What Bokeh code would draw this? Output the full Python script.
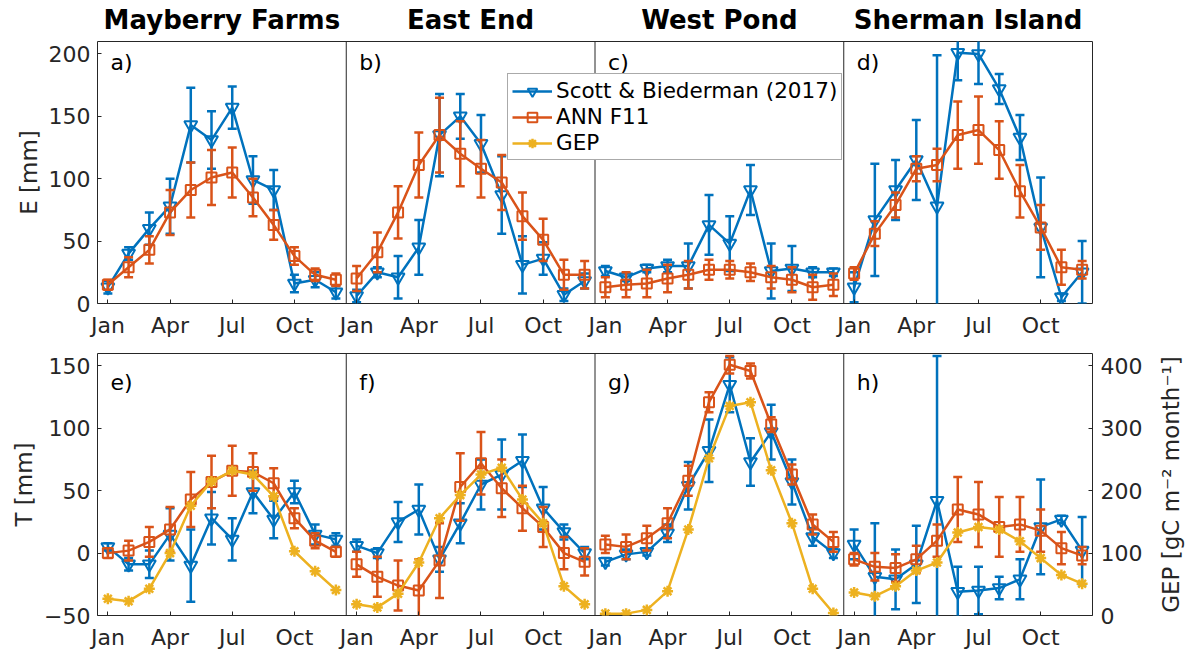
from math import pi
from bokeh.plotting import figure
from bokeh.models import Range1d, LinearAxis, FixedTicker, Span, Label, Legend, LegendItem
from bokeh.layouts import column, row
from bokeh.embed import file_html
from bokeh.resources import INLINE

# ---------------- data ----------------
months = [1, 2, 3, 4, 5, 6, 7, 8, 9, 10, 11, 12]
tick_months = [1, 4, 7, 10]
tick_labels = ["Jan", "Apr", "Jul", "Oct"]
sites = ["Mayberry Farms", "East End", "West Pond", "Sherman Island"]
letters_top = ["a)", "b)", "c)", "d)"]
letters_bottom = ["e)", "f)", "g)", "h)"]
series_names = ["Scott & Biederman (2017)", "ANN F11", "GEP"]
gep_label = "GEP [gC m\u207b\u00b2 month\u207b\u00b9]"

# Mayberry Farms
mf_E_scott = [13, 40, 60, 78, 143, 131, 157, 99, 91, 16, 19, 9]
mf_E_scott_err = [5, 5, 13, 22, 30, 23, 17, 19, 16, 7, 6, 5]
mf_E_ann = [15, 29, 43, 73, 91, 101, 105, 85, 63, 38, 23, 19]
mf_E_ann_err = [4, 8, 11, 18, 22, 22, 20, 15, 12, 7, 5, 5]
mf_T_scott = [5, -9, -9, 15, -10, 28, 11, 49, 27, 49, 15, 11]
mf_T_scott_err = [3, 5, 11, 21, 29, 21, 17, 17, 15, 9, 8, 5]
mf_T_ann = [0, 2, 9, 19, 43, 57, 66, 65, 56, 28, 10, 1]
mf_T_ann_err = [4, 8, 12, 18, 22, 21, 20, 15, 12, 8, 6, 4]
mf_GEP = [27, 23, 43, 100, 176, 215, 232, 226, 191, 103, 71, 41]

# East End
ee_E_scott = [6, 25, 21, 45, 135, 150, 128, 87, 31, 36, 7, 18]
ee_E_scott_err = [5, 4, 17, 22, 33, 18, 23, 31, 23, 13, 5, 6]
ee_E_ann = [20, 41, 73, 111, 135, 120, 108, 97, 70, 51, 23, 23]
ee_E_ann_err = [10, 16, 21, 26, 30, 26, 23, 22, 19, 17, 12, 11]
ee_T_scott = [6, 0, 25, 35, -5, 24, 55, 63, 74, 36, 17, 0]
ee_T_scott_err = [5, 4, 16, 20, 10, 16, 20, 28, 21, 17, 6, 5]
ee_T_ann = [-9, -19, -26, -30, -6, 53, 72, 52, 36, 21, 0, -7]
ee_T_ann_err = [10, 16, 20, 25, 30, 27, 25, 23, 18, 16, 13, 11]
ee_GEP = [18, 13, 35, 85, 156, 193, 226, 237, 186, 148, 47, 18]

# West Pond
wp_E_scott = [26, 21, 28, 30, 30, 63, 48, 91, 26, 28, 25, 25]
wp_E_scott_err = [4, 3, 3, 5, 18, 24, 22, 20, 22, 18, 4, 3]
wp_E_ann = [13, 15, 16, 20, 23, 27, 27, 25, 21, 19, 13, 15]
wp_E_ann_err = [8, 10, 11, 11, 11, 8, 7, 7, 9, 10, 10, 9]
wp_T_scott = [-7, -1, 1, 16, 54, 82, 135, 73, 97, 57, 13, 0]
wp_T_scott_err = [3, 4, 3, 7, 19, 25, 22, 19, 22, 18, 7, 4]
wp_T_ann = [7, 5, 12, 24, 58, 121, 151, 146, 103, 63, 23, 9]
wp_T_ann_err = [7, 10, 10, 12, 12, 8, 7, 6, 6, 8, 8, 8]
wp_GEP = [3, 3, 9, 39, 138, 252, 336, 342, 233, 148, 43, 4]

# Sherman Island
si_E_scott = [13, 67, 91, 115, 78, 201, 200, 172, 133, 61, 5, 25]
si_E_scott_err = [12, 45, 24, 32, 121, 22, 24, 12, 18, 40, 3, 25]
si_E_ann = [24, 56, 79, 108, 111, 135, 139, 123, 90, 61, 29, 27]
si_E_ann_err = [5, 10, 10, 10, 13, 27, 27, 23, 21, 18, 14, 7]
si_T_scott = [7, -19, -21, -9, 42, -31, -30, -28, -21, 21, 27, 2]
si_T_scott_err = [12, 43, 24, 31, 116, 20, 19, 9, 16, 38, 3, 27]
si_T_ann = [-5, -11, -12, -5, 10, 35, 31, 21, 23, 18, 4, -2]
si_T_ann_err = [5, 11, 11, 11, 13, 26, 26, 24, 22, 17, 13, 7]
si_GEP = [37, 31, 47, 72, 85, 133, 142, 138, 119, 92, 65, 51]

E_scott = [mf_E_scott, ee_E_scott, wp_E_scott, si_E_scott]
E_scott_err = [mf_E_scott_err, ee_E_scott_err, wp_E_scott_err, si_E_scott_err]
E_ann = [mf_E_ann, ee_E_ann, wp_E_ann, si_E_ann]
E_ann_err = [mf_E_ann_err, ee_E_ann_err, wp_E_ann_err, si_E_ann_err]
T_scott = [mf_T_scott, ee_T_scott, wp_T_scott, si_T_scott]
T_scott_err = [mf_T_scott_err, ee_T_scott_err, wp_T_scott_err, si_T_scott_err]
T_ann = [mf_T_ann, ee_T_ann, wp_T_ann, si_T_ann]
T_ann_err = [mf_T_ann_err, ee_T_ann_err, wp_T_ann_err, si_T_ann_err]
GEP = [mf_GEP, ee_GEP, wp_GEP, si_GEP]

# ---------------- style ----------------
BLUE = "#0072BD"
ORANGE = "#D95319"
YELLOW = "#EDB120"
FONT = "DejaVu Sans"
INK = "#262626"
NP = 4


def panel_ranges(p):
    p.extra_x_ranges = {f"p{k}": Range1d(0.5 - 12 * k, 0.5 + 12 * (NP - k)) for k in range(NP)}


def bare_fig(width, height, xr, yr, **borders):
    p = figure(width=width, height=height, x_range=xr, y_range=yr,
               output_backend="svg", toolbar_location=None, **borders)
    p.axis.visible = False
    p.grid.visible = False
    p.outline_line_color = None
    p.background_fill_color = "white"
    p.border_fill_color = "white"
    return p


def style_axis(ax):
    ax.axis_line_color = None
    ax.major_tick_in = 4
    ax.major_tick_out = 0
    ax.minor_tick_line_color = None
    ax.major_tick_line_color = INK
    ax.major_label_text_font = FONT
    ax.major_label_text_font_size = "22px"
    ax.major_label_text_color = INK
    ax.axis_label_text_font = FONT
    ax.axis_label_text_font_size = "23px"
    ax.axis_label_text_font_style = "normal"
    ax.axis_label_text_color = INK


def make_fig(width, height, ylo, yhi, yticks, ylabel, bottom, right):
    p = figure(width=width, height=height, x_range=Range1d(0.5, 0.5 + 12 * NP),
               y_range=Range1d(ylo, yhi), output_backend="svg", toolbar_location=None,
               min_border_left=97, min_border_right=right, min_border_top=0,
               min_border_bottom=bottom)
    panel_ranges(p)
    p.grid.visible = False
    p.outline_line_color = INK
    p.outline_line_width = 1
    p.background_fill_color = "white"
    p.border_fill_color = "white"
    ticks = [m + 12 * k for k in range(NP) for m in tick_months]
    p.xaxis.ticker = FixedTicker(ticks=ticks)
    p.xaxis.major_label_overrides = {m + 12 * k: lab for k in range(NP)
                                     for m, lab in zip(tick_months, tick_labels)}
    p.yaxis.ticker = FixedTicker(ticks=yticks)
    p.yaxis.axis_label = ylabel
    for ax in p.xaxis + p.yaxis:
        style_axis(ax)
    p.xaxis.major_label_standoff = 9
    p.yaxis.major_label_standoff = 7
    p.yaxis.axis_label_standoff = 4
    for k in range(1, NP):
        p.add_layout(Span(location=0.5, dimension="height", x_range_name=f"p{k}",
                          line_color=INK, line_width=1))
    return p


def draw_series(p, xr, y, err, color, marker, size, yr="default"):
    lo = [v - e for v, e in zip(y, err)]
    hi = [v + e for v, e in zip(y, err)]
    p.segment(x0=months, y0=lo, x1=months, y1=hi, x_range_name=xr, y_range_name=yr,
              line_color=color, line_width=2.5)
    p.scatter(x=months + months, y=lo + hi, marker="dash", size=9, x_range_name=xr,
              y_range_name=yr, line_color=color, line_width=2.5)
    ln = p.line(months, y, x_range_name=xr, y_range_name=yr, line_color=color, line_width=2.5)
    sc = p.scatter(months, y, marker=marker, size=size, x_range_name=xr, y_range_name=yr,
                   fill_color=None, line_color=color, line_width=2)
    return ln, sc


def draw_gep(p, xr, y, visible=True):
    ln = p.line(months, y, x_range_name=xr, y_range_name="gep", line_color=YELLOW,
                line_width=2.5, visible=visible)
    sc = p.scatter(months, y, marker="asterisk", size=11, x_range_name=xr, y_range_name="gep",
                   line_color=YELLOW, line_width=2.5, visible=visible)
    return ln, sc


# ---------------- titles strip ----------------
tfig = bare_fig(1189, 41, Range1d(0.5, 0.5 + 12 * NP), Range1d(0, 41),
                min_border_left=97, min_border_right=97, min_border_top=0, min_border_bottom=0)
panel_ranges(tfig)
for k in range(NP):
    tfig.add_layout(Label(x=6.5, y=22, x_range_name=f"p{k}", text=sites[k],
                          text_font=FONT, text_font_size="26px", text_font_style="bold",
                          text_color="black", text_baseline="middle", text_align="center"))

# ---------------- top row: E ----------------
top = make_fig(1189, 312, 0, 210, [0, 50, 100, 150, 200], "E [mm]", 50, 97)
top.extra_y_ranges = {"gep": Range1d(0, 420)}
legend_renderers = None
for k in range(NP):
    xr = f"p{k}"
    b = draw_series(top, xr, E_scott[k], E_scott_err[k], BLUE, "inverted_triangle", 13)
    o = draw_series(top, xr, E_ann[k], E_ann_err[k], ORANGE, "square", 10)
    if k == 0:
        legend_renderers = (b, o)
    top.add_layout(Label(x=1.13, y=193, x_range_name=xr, text=letters_top[k],
                         text_font=FONT, text_font_size="22px", text_color="black",
                         text_baseline="middle", text_align="left"))

# GEP entry for the legend (hidden renderer in this row)
g_ln, g_sc = draw_gep(top, "p0", mf_GEP, visible=False)

legend = Legend(items=[
    LegendItem(label=series_names[0], renderers=list(legend_renderers[0])),
    LegendItem(label=series_names[1], renderers=list(legend_renderers[1])),
    LegendItem(label=series_names[2], renderers=[g_ln, g_sc]),
], location=(410, 143))
legend.label_text_font = FONT
legend.label_text_font_size = "21.5px"
legend.label_text_color = "black"
legend.glyph_width = 40
legend.glyph_height = 24
legend.label_height = 24
legend.spacing = 1
legend.padding = 4
legend.margin = 0
legend.label_standoff = 4
legend.border_line_color = "#555555"
legend.border_line_width = 1
legend.background_fill_alpha = 1
legend.inactive_fill_alpha = 0
top.add_layout(legend, "center")

# ---------------- bottom row: T + GEP ----------------
bot = make_fig(1150, 301, -50, 160, [-50, 0, 50, 100, 150], "T [mm]", 39, 58)
bot.extra_y_ranges = {"gep": Range1d(0, 420)}
gax = LinearAxis(y_range_name="gep", ticker=FixedTicker(ticks=[0, 100, 200, 300, 400]))
style_axis(gax)
gax.major_label_standoff = 8
bot.add_layout(gax, "right")

for k in range(NP):
    xr = f"p{k}"
    draw_series(bot, xr, T_scott[k], T_scott_err[k], BLUE, "inverted_triangle", 13)
    draw_series(bot, xr, T_ann[k], T_ann_err[k], ORANGE, "square", 10)
    draw_gep(bot, xr, GEP[k])
    bot.add_layout(Label(x=1.13, y=137, x_range_name=xr, text=letters_bottom[k],
                         text_font=FONT, text_font_size="22px", text_color="black",
                         text_baseline="middle", text_align="left"))

# rotated GEP axis title (reads bottom to top)
gfig = bare_fig(39, 301, Range1d(0, 39), Range1d(-50, 160),
                min_border_left=0, min_border_right=0, min_border_top=0, min_border_bottom=39)
gfig.add_layout(Label(x=20, y=55, text=gep_label, angle=pi / 2, text_font=FONT,
                      text_font_size="23px", text_color=INK, text_align="center",
                      text_baseline="middle"))

layout = column(tfig, top, row(bot, gfig, spacing=0), spacing=0)
open("out.html", "w").write(file_html(layout, INLINE))
